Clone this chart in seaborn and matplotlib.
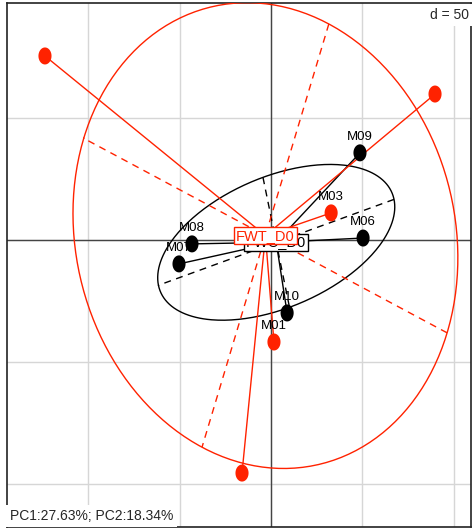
import numpy as np
import pandas as pd
import matplotlib
matplotlib.use("Agg")
import matplotlib.pyplot as plt
from matplotlib.path import Path
import seaborn as sns

# ---- data (PCA scores) ----
black_group = "FWC_D0"
black_names = ["M09", "M06", "M08", "M07", "M10"]
black_x = [48.7, 50.4, -43.3, -50.4, 8.8]
black_y = [35.7, 0.8, -1.6, -9.8, -29.9]

red_group = "FWT_D0"
red_names = ["", "", "M03", "M01", ""]
red_x = [-123.8, 89.8, 32.9, 1.6, -15.9]
red_y = [75.4, 59.8, 11.1, -41.8, -95.5]

grid_x = [-100, -50, 0, 50, 100]
grid_y = [50, 0, -50, -100]
d_label = "d = 50"
pc_label = "PC1:27.63%; PC2:18.34%"

RED = "#FF2200"
BLACK = "#000000"

sns.set_theme(style="white")
plt.rcParams["font.family"] = ["Liberation Sans", "DejaVu Sans"]

fig = plt.figure(figsize=(4.72, 5.30), dpi=100)
ax = fig.add_axes([7 / 472, 3 / 530, 464 / 472, 524 / 530])
ax.set_xlim(-144.6, 109.5)
ax.set_ylim(-117.6, 97.1)

for gx in grid_x:
    ax.axvline(gx, color="#d6d6d6", lw=1.0, zorder=0)
for gy in grid_y:
    ax.axhline(gy, color="#d6d6d6", lw=1.0, zorder=0)
ax.axvline(0, color="#444444", lw=1.0, zorder=1)
ax.axhline(0, color="#444444", lw=1.0, zorder=1)

df = pd.concat([
    pd.DataFrame({"x": black_x, "y": black_y, "name": black_names, "group": black_group}),
    pd.DataFrame({"x": red_x, "y": red_y, "name": red_names, "group": red_group}),
], ignore_index=True)

t = np.linspace(0, 2 * np.pi, 60)
marker_path = Path(np.column_stack([np.cos(t), 1.3 * np.sin(t)]), closed=True)


def draw_class(sub, color, z):
    x = sub["x"].to_numpy()
    y = sub["y"].to_numpy()
    cx, cy = x.mean(), y.mean()
    cov = np.cov(np.vstack([x, y]), bias=True)
    vals, vecs = np.linalg.eigh(cov)
    tt = np.linspace(0, 2 * np.pi, 300)
    pts = np.zeros((len(tt), 2))
    for k in range(2):
        pts += 1.5 * np.sqrt(vals[k]) * np.outer(
            np.cos(tt) if k == 1 else np.sin(tt), vecs[:, k])
    ax.plot(cx + pts[:, 0], cy + pts[:, 1], color=color, lw=1.0, zorder=z)
    # ellipse axes (dashed)
    for k in range(2):
        a = 1.5 * np.sqrt(vals[k]) * vecs[:, k]
        ax.plot([cx - a[0], cx + a[0]], [cy - a[1], cy + a[1]], color=color,
                lw=1.0, ls=(0, (5, 4)), zorder=z)
    # stars
    for xi, yi in zip(x, y):
        ax.plot([cx, xi], [cy, yi], color=color, lw=1.0, zorder=z)
    return cx, cy


cb = draw_class(df[df.group == black_group], BLACK, 2)
cr = draw_class(df[df.group == red_group], RED, 3)

# individual labels
for _, r in df.iterrows():
    if r["name"]:
        ax.annotate(r["name"], (r["x"], r["y"]), xytext=(0, 11.5),
                    textcoords="offset points", ha="center", va="center",
                    fontsize=9.5, color="black", zorder=4)

sns.scatterplot(data=df, x="x", y="y", hue="group",
                palette={black_group: BLACK, red_group: RED},
                marker=marker_path, s=150, linewidth=0, legend=False,
                ax=ax, zorder=5)

ax.text(cb[0], cb[1], black_group, ha="center", va="center", fontsize=10.5,
        color=BLACK, zorder=6,
        bbox=dict(boxstyle="square,pad=0.12", fc="white", ec=BLACK, lw=1.0))
ax.text(cr[0], cr[1], red_group, ha="center", va="center", fontsize=10.5,
        color=RED, zorder=7,
        bbox=dict(boxstyle="square,pad=0.12", fc="white", ec=RED, lw=1.0))

ax.text(0.995, 0.99, d_label, transform=ax.transAxes, ha="right", va="top",
        fontsize=10, zorder=8,
        bbox=dict(boxstyle="square,pad=0.3", fc="white", ec="none"))
ax.text(0.006, 0.008, pc_label, transform=ax.transAxes, ha="left", va="bottom",
        fontsize=10, zorder=8,
        bbox=dict(boxstyle="square,pad=0.3", fc="white", ec="none"))

ax.set_xticks([])
ax.set_yticks([])
ax.set_xlabel("")
ax.set_ylabel("")
for s in ax.spines.values():
    s.set_visible(True)
    s.set_color("#222222")
    s.set_linewidth(1.2)

fig.savefig("out.png", dpi=100)
